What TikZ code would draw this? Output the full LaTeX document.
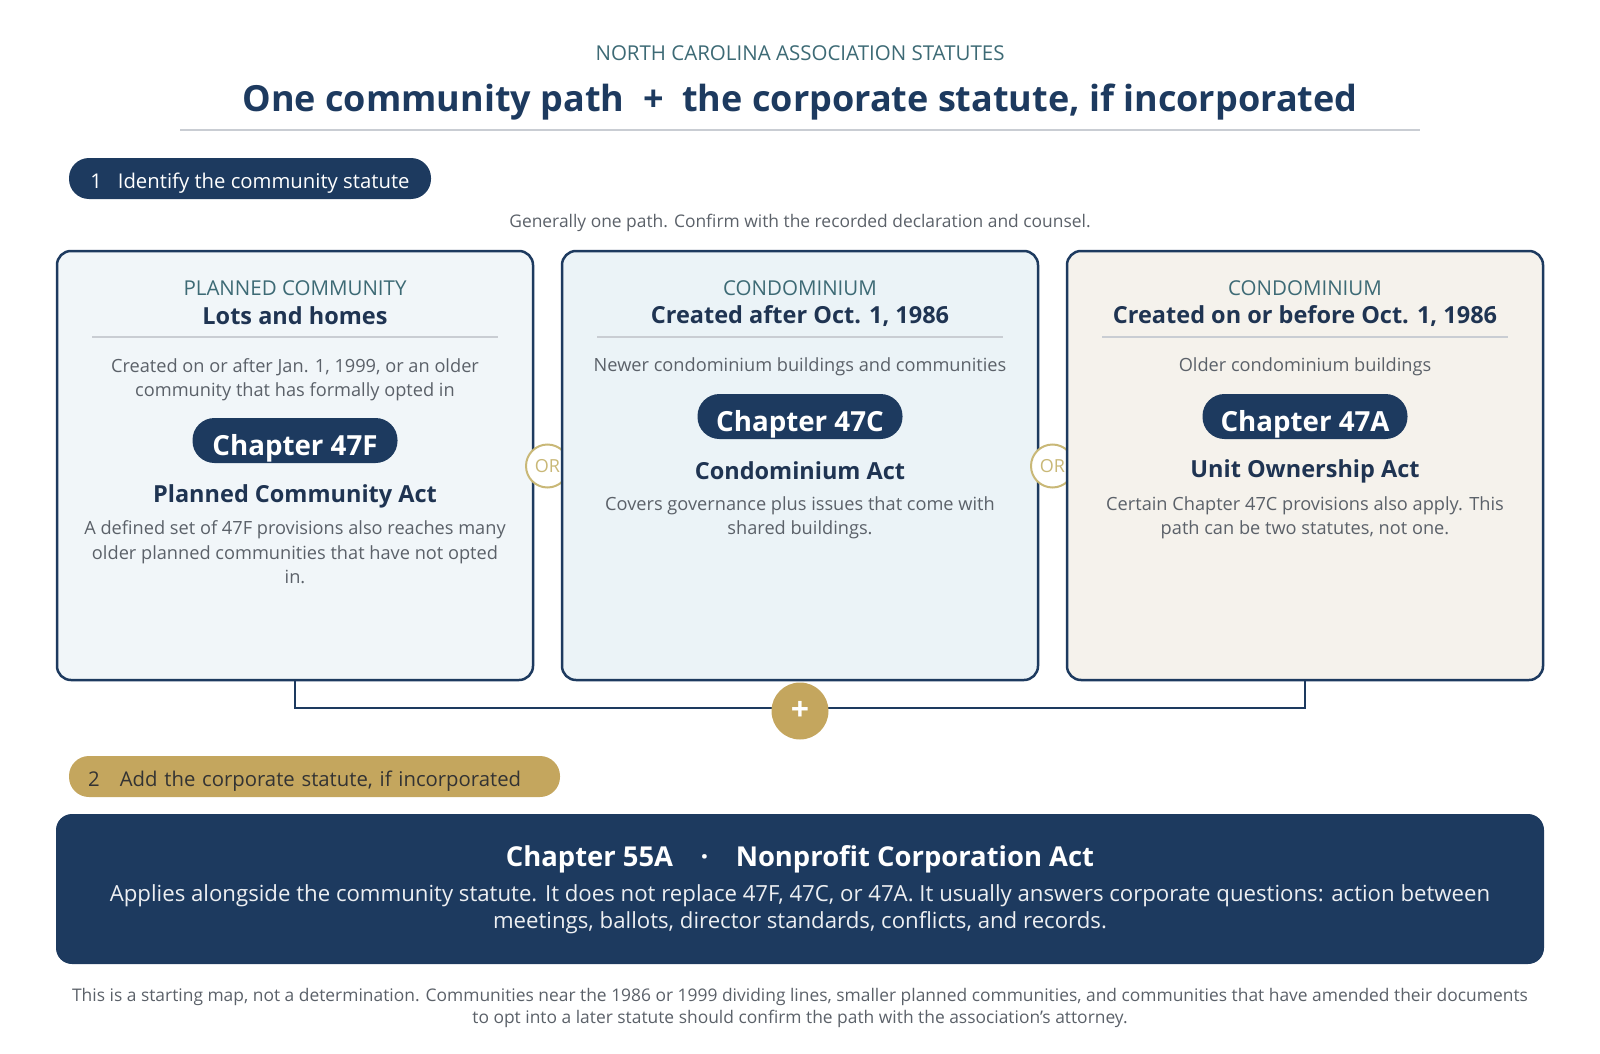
\documentclass[tikz,border=0pt]{standalone}
\usepackage{fontspec}
\setmainfont{Open Sans}
\usepackage{xcolor}
\usepackage{tikz}
\definecolor{navy}{HTML}{1D3A5F}
\definecolor{inkblue}{HTML}{1F3452}
\definecolor{teal}{HTML}{3D6A75}
\definecolor{greytext}{HTML}{5B6169}
\definecolor{rulegrey}{HTML}{C9CDD3}
\definecolor{gold}{HTML}{C4A65E}
\definecolor{orgold}{HTML}{C9B877}
\definecolor{fillF}{HTML}{F1F6F9}
\definecolor{fillC}{HTML}{EBF3F7}
\definecolor{fillA}{HTML}{F5F2EC}
\newcommand\setfs[2]{\fontsize{#1}{#2}\selectfont}

\begin{document}
\begin{tikzpicture}[x=1pt,y=-1pt,
    card/.style={draw=navy, line width=2.5pt, rounded corners=14pt, minimum width=476pt, minimum height=429pt},
    step pill/.style={rounded corners=20pt, minimum height=41pt, text height=20pt, text depth=0.6pt, font=\setfs{20.3}{24}},
    chap/.style={fill=navy, rounded corners=22pt, minimum height=45pt, minimum width=205pt, text height=29pt, text depth=0pt, text=white, font=\setfs{27.7}{32}\bfseries},
    cat/.style={text=teal, font=\setfs{20.5}{24}, inner sep=0pt},
    head/.style={text=inkblue, font=\setfs{23.5}{28}\bfseries, inner sep=0pt},
    desc/.style={text=greytext, font=\setfs{18.2}{24.5}, align=center, inner sep=0pt},
    orring/.style={circle, draw=orgold, line width=2pt, fill=white, minimum size=43pt, inner sep=0pt, text=orgold, font=\setfs{18}{20}},
    link/.style={draw=navy, line width=2.5pt}
  ]
  \useasboundingbox (0,0) rectangle (1600,1054);

  % Header
  \node[text=teal, font=\setfs{20.5}{24}, inner sep=0pt] (kicker) at (800,53) {NORTH CAROLINA ASSOCIATION STATUTES};
  \node[text=navy, font=\setfs{36}{44}\bfseries, inner sep=0pt] (title) at (800,102) {One community path\ \ +\ \ the corporate statute, if incorporated};
  \draw[rulegrey, line width=2pt] (180,130.5) -- (1420,130.5);

  % Step 1
  \node[step pill, minimum width=362pt, fill=navy, text=white] (step1) at (250,178.5) {1\ \ \ Identify the community statute};
  \node[text=greytext, font=\setfs{17.4}{20}, inner sep=0pt] (note) at (800,223) {Generally one path. Confirm with the recorded declaration and counsel.};

  % Cards
  \node[card, fill=fillF] (cardF) at (295,465.5) {};
  \node[orring] (or1) at (547.5,466) {OR};
  \node[card, fill=fillC] (cardC) at (800,465.5) {};
  \node[orring] (or2) at (1052.5,466) {OR};
  \node[card, fill=fillA] (cardA) at (1305,465.5) {};

  % Card 47F
  \node[cat] (catF) at (295,288) {PLANNED COMMUNITY};
  \node[head] (headF) at (295,316) {Lots and homes};
  \draw[rulegrey, line width=1.5pt] (92,337) -- (498,337);
  \node[desc] (whoF) at (295,379.5) {Created on or after Jan. 1, 1999, or an older\\community that has formally opted in};
  \node[chap] (chapF) at (295,440.5) {Chapter 47F};
  \node[head] (actF) at (295,496) {Planned Community Act};
  \node[desc] (noteF) at (295,552.5) {A defined set of 47F provisions also reaches many\\older planned communities that have not opted\\in.};

  % Card 47C
  \node[cat] (catC) at (800,288) {CONDOMINIUM};
  \node[head] (headC) at (800,316) {Created after Oct. 1, 1986};
  \draw[rulegrey, line width=1.5pt] (597,337) -- (1003,337);
  \node[desc] (whoC) at (800,367) {Newer condominium buildings and communities};
  \node[chap] (chapC) at (800,416.5) {Chapter 47C};
  \node[head] (actC) at (800,471) {Condominium Act};
  \node[desc] (noteC) at (800,518) {Covers governance plus issues that come with\\shared buildings.};

  % Card 47A
  \node[cat] (catA) at (1305,288) {CONDOMINIUM};
  \node[head] (headA) at (1305,316) {Created on or before Oct. 1, 1986};
  \draw[rulegrey, line width=1.5pt] (1102,337) -- (1508,337);
  \node[desc] (whoA) at (1305,367) {Older condominium buildings};
  \node[chap] (chapA) at (1305,416.5) {Chapter 47A};
  \node[head] (actA) at (1305,471) {Unit Ownership Act};
  \node[desc] (noteA) at (1305,518) {Certain Chapter 47C provisions also apply. This\\path can be two statutes, not one.};

  % Join
  \coordinate (joinF) at (295,708);
  \coordinate (joinA) at (1305,708);
  \draw[link] (cardF.south) -- (joinF) -- (joinA) -- (cardA.south);
  \node[circle, fill=gold, minimum size=57pt, inner sep=0pt, text=white, font=\setfs{32}{32}\bfseries] (plus) at (800,711) {+};

  % Step 2
  \node[step pill, inner xsep=19pt, text width=453pt, align=left, fill=gold, text=black!80] (step2) at (314.5,776.5) {2\ \ \ Add the corporate statute, if incorporated};
  \node[fill=navy, rounded corners=16pt, minimum width=1488pt, minimum height=150pt] (corp) at (800,889) {};
  \node[text=white, font=\setfs{27.4}{34}\bfseries, inner sep=0pt] (corpTitle) at (800,859) {Chapter 55A\quad·\quad Nonprofit Corporation Act};
  \node[text=white!92!navy, font=\setfs{22.2}{27.5}, align=center, inner sep=0pt] (corpText) at (800,909) {Applies alongside the community statute. It does not replace 47F, 47C, or 47A. It usually answers corporate questions: action between\\meetings, ballots, director standards, conflicts, and records.};

  % Footer
  \node[text=greytext, font=\setfs{17.4}{22.5}, align=center, inner sep=0pt] (footer) at (800,1008) {This is a starting map, not a determination. Communities near the 1986 or 1999 dividing lines, smaller planned communities, and communities that have amended their documents\\to opt into a later statute should confirm the path with the association’s attorney.};
\end{tikzpicture}
\end{document}
